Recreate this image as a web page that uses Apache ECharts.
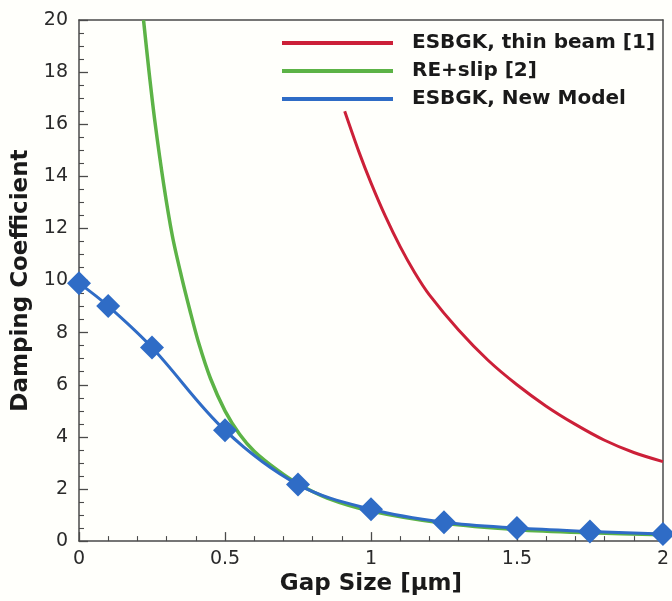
<!DOCTYPE html>
<html>
<head>
<meta charset="utf-8">
<script src="https://cdn.jsdelivr.net/npm/echarts@6/dist/echarts.min.js"></script>
<style>
html,body{margin:0;padding:0;background:#fffffb;}
#chart{width:672px;height:601px;}
</style>
</head>
<body>
<div id="chart"></div>
<script>
// Data
const seriesNames = ['ESBGK, thin beam [1]', 'RE+slip [2]', 'ESBGK, New Model'];
const xTicks = [0, 0.5, 1, 1.5, 2];
const yTicks = [0, 2, 4, 6, 8, 10, 12, 14, 16, 18, 20];

const thinBeamX = [0.91, 0.96, 1.0, 1.05, 1.1, 1.15, 1.2, 1.3, 1.4, 1.5, 1.6, 1.7, 1.8, 1.9, 2.0];
const thinBeamY = [16.5, 14.9, 13.75, 12.45, 11.3, 10.3, 9.45, 8.1, 6.95, 6.0, 5.18, 4.48, 3.87, 3.4, 3.05];

const reSlipX = [0.221, 0.24, 0.26, 0.29, 0.32, 0.35, 0.38, 0.41, 0.45, 0.5, 0.55, 0.6, 0.68, 0.75, 0.85, 1.0, 1.25, 1.5, 1.75, 2.0];
const reSlipY = [20.0, 18.0, 16.1, 13.7, 11.7, 10.2, 8.85, 7.6, 6.25, 5.0, 4.1, 3.45, 2.72, 2.2, 1.65, 1.15, 0.68, 0.44, 0.32, 0.24];

const newModelX = [0, 0.1, 0.25, 0.5, 0.75, 1.0, 1.25, 1.5, 1.75, 2.0];
const newModelY = [9.9, 9.02, 7.43, 4.25, 2.17, 1.22, 0.72, 0.5, 0.37, 0.27];

const pairs = (xs, ys) => xs.map((x, i) => [x, ys[i]]);

const colors = ['#cc2038', '#5cb346', '#2f6cc6'];
const fontFam = 'DejaVu Sans';
const axisColor = '#4a4a4a';

const frameAxis = {
  axisLine: { show: true, onZero: false, lineStyle: { color: axisColor, width: 1.5 } },
  axisTick: { show: false }, axisLabel: { show: false }, splitLine: { show: false }
};

const chart = echarts.init(document.getElementById('chart'));
chart.setOption({
  backgroundColor: '#fffffb',
  animation: false,
  grid: { left: 79, right: 3, top: 20, bottom: 56 },
  legend: {
    orient: 'vertical',
    left: 282, top: 32, padding: 0,
    icon: 'rect',
    itemWidth: 111, itemHeight: 4,
    itemGap: 6,
    data: seriesNames.map((n, i) => ({ name: n, itemStyle: { color: colors[i] } })),
    textStyle: {
      fontFamily: fontFam, fontWeight: 'bold', fontSize: 20, color: '#1a1a1a',
      padding: [0, 0, 0, 14], lineHeight: 22
    }
  },
  xAxis: [{
    type: 'value', min: xTicks[0], max: xTicks[xTicks.length - 1], interval: 0.5,
    name: 'Gap Size [\u03bcm]', nameLocation: 'middle', nameGap: 25,
    nameTextStyle: { fontFamily: fontFam, fontWeight: 'bold', fontSize: 23, color: '#1a1a1a' },
    axisLine: { show: true, onZero: false, lineStyle: { color: axisColor, width: 1.5 } },
    axisTick: { show: true, inside: true, length: 9, lineStyle: { color: axisColor, width: 1.3 } },
    minorTick: { show: true, splitNumber: 5, length: 5, lineStyle: { color: axisColor, width: 1.1 } },
    axisLabel: {
      fontFamily: fontFam, fontSize: 19, color: '#2a2a2a', margin: 8,
      formatter: v => String(v)
    },
    splitLine: { show: false }
  }, Object.assign({ type: 'value', position: 'top', min: xTicks[0], max: xTicks[xTicks.length - 1] }, frameAxis)],
  yAxis: [{
    type: 'value', min: yTicks[0], max: yTicks[yTicks.length - 1], interval: 2,
    name: 'Damping Coefficient', nameLocation: 'middle', nameGap: 33,
    nameTextStyle: { fontFamily: fontFam, fontWeight: 'bold', fontSize: 23, color: '#1a1a1a' },
    axisLine: { show: true, onZero: false, lineStyle: { color: axisColor, width: 1.5 } },
    axisTick: { show: true, inside: true, length: 9, lineStyle: { color: axisColor, width: 1.3 } },
    minorTick: { show: true, splitNumber: 4, length: 5, lineStyle: { color: axisColor, width: 1.1 } },
    axisLabel: { fontFamily: fontFam, fontSize: 19, color: '#2a2a2a', margin: 11 },
    splitLine: { show: false }
  }, Object.assign({ type: 'value', position: 'right', min: yTicks[0], max: yTicks[yTicks.length - 1] }, frameAxis)],
  series: [
    {
      name: seriesNames[0], type: 'line', data: pairs(thinBeamX, thinBeamY),
      smooth: 0.3, showSymbol: false, symbol: 'none',
      lineStyle: { color: colors[0], width: 3 }, itemStyle: { color: colors[0] }, z: 2
    },
    {
      name: seriesNames[1], type: 'line', data: pairs(reSlipX, reSlipY),
      smooth: 0.3, showSymbol: false, symbol: 'none', clip: true,
      lineStyle: { color: colors[1], width: 3.5 }, itemStyle: { color: colors[1] }, z: 2
    },
    {
      name: seriesNames[2], type: 'line', data: pairs(newModelX, newModelY),
      smooth: 0.35, symbol: 'diamond', symbolSize: 24, showSymbol: true,
      lineStyle: { color: colors[2], width: 3 }, itemStyle: { color: colors[2] }, z: 3
    }
  ]
});
</script>
</body>
</html>
